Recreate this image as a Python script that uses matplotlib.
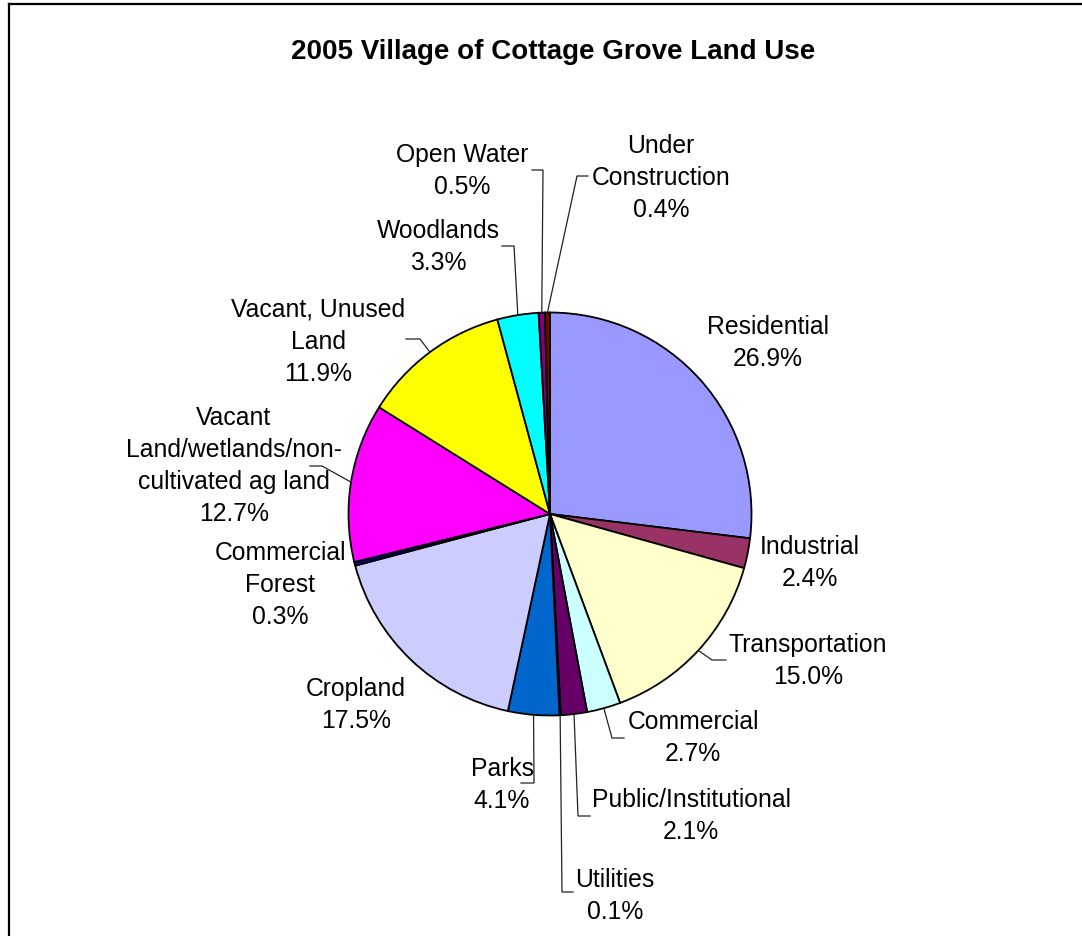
import matplotlib
matplotlib.use('Agg')
import matplotlib.pyplot as plt
from matplotlib.lines import Line2D
import numpy as np

# ---- data ----
categories = ["Residential", "Industrial", "Transportation", "Commercial",
              "Public/Institutional", "Utilities", "Parks", "Cropland",
              "Commercial\nForest", "Vacant\nLand/wetlands/non-\ncultivated ag land",
              "Vacant, Unused\nLand", "Woodlands", "Open Water", "Under\nConstruction"]
values = [26.9, 2.4, 15.0, 2.7, 2.1, 0.1, 4.1, 17.5, 0.3, 12.7, 11.9, 3.3, 0.5, 0.4]
colors = ["#9999FF", "#993366", "#FFFFCC", "#CCFFFF", "#660066", "#FF8080",
          "#0066CC", "#CCCCFF", "#000080", "#FF00FF", "#FFFF00", "#00FFFF",
          "#800080", "#800000"]
title = "2005 Village of Cottage Grove Land Use"

# ---- layout (pixel coords, y from top) ----
W, H = 1082, 937
CX, CY, R = 550, 515, 201.5
label_pos = [(768, 343), (810, 563), (808, 661), (693, 738), (691, 816),
             (615, 896), (502, 785), (356, 705), (280, 585), (234, 466),
             (318, 342), (438, 247), (462, 171), (661, 178)]
# leader: (elbow, end) or None
leaders = [None, None, ((712, 661), (726, 661)), ((612, 739), (624, 739)),
           ((578, 817), (590, 817)), ((562, 893), (573, 893)),
           ((534, 784), (521, 784)), None, None, ((322, 467), (310, 467)),
           ((420, 340), (406, 340)), ((514, 247), (502, 247)),
           ((543, 171), (532, 171)), ((577, 177), (588, 177))]

plt.rcParams['font.family'] = ['Liberation Sans', 'DejaVu Sans']

fig = plt.figure(figsize=(W / 100, H / 100), dpi=100)
fig.patch.set_facecolor('white')
ax = fig.add_axes([0, 0, 1, 1])

def fy(y):
    return H - y

wedges, _ = ax.pie(values, colors=colors, startangle=90, counterclock=False,
                   center=(CX, fy(CY)), radius=R,
                   wedgeprops=dict(edgecolor='black', linewidth=1.3))
ax.set_xlim(0, W)
ax.set_ylim(0, H)
ax.set_aspect('equal')
ax.axis('off')

for i, (cat, v) in enumerate(zip(categories, values)):
    x, y = label_pos[i]
    ax.text(x, fy(y), f"{cat}\n{v:.1f}%", ha='center', va='center',
            multialignment='center', fontsize=17.8, linespacing=1.43,
            color='black')
    if leaders[i] is not None:
        w = wedges[i]
        th = np.deg2rad((w.theta1 + w.theta2) / 2)
        ex, ey = CX + R * np.cos(th), fy(CY) + R * np.sin(th)
        (bx, by), (tx, ty) = leaders[i]
        ax.plot([ex, bx, tx], [ey, fy(by), fy(ty)], color='#222222', lw=0.9,
                solid_joinstyle='miter')

ax.text(553, fy(52), title, ha='center', va='center', fontsize=20,
        fontweight='bold')

# frame (top and left edges visible)
fig.add_artist(Line2D([9 / W, 1.0], [1 - 5 / H, 1 - 5 / H], color='black',
                      lw=1.6, transform=fig.transFigure))
fig.add_artist(Line2D([9 / W, 9 / W], [1 - 5 / H, 0], color='black',
                      lw=1.6, transform=fig.transFigure))

fig.savefig('out.png', dpi=100, facecolor='white')
